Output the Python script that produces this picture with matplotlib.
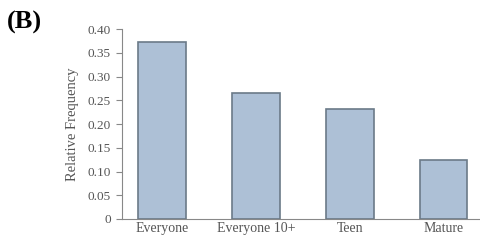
import matplotlib.pyplot as plt
import numpy as np

plt.rcParams['font.family'] = ['Liberation Serif', 'DejaVu Serif']

# ratings and their relative frequency
ratings = ["Everyone", "Everyone 10+", "Teen", "Mature"]
rel_freq = [0.372, 0.265, 0.232, 0.124]
yticks = [0, 0.05, 0.10, 0.15, 0.20, 0.25, 0.30, 0.35, 0.40]
ytick_labels = ["0", "0.05", "0.10", "0.15", "0.20", "0.25", "0.30", "0.35", "0.40"]

fig = plt.figure(figsize=(4.8, 2.44), dpi=100)
ax = fig.add_axes([0.254, 0.1025, 0.746, 0.7785])

x = np.arange(len(ratings))
ax.bar(x, rel_freq, width=0.51, color='#adc0d6', edgecolor='#6b7a88', linewidth=1.2)

ax.set_xlim(-0.43, 3.39)
ax.set_ylim(0, 0.40)
ax.set_yticks(yticks)
ax.set_yticklabels(ytick_labels)
ax.set_xticks(x)
ax.set_xticklabels(ratings)

txt = '#555555'
ax.tick_params(axis='y', direction='out', length=4, width=0.8, colors='#888888', labelcolor=txt, labelsize=9.5, pad=4)
ax.tick_params(axis='x', length=0, labelcolor=txt, labelsize=10, pad=2)
for s in ['top', 'right']:
    ax.spines[s].set_visible(False)
for s in ['left', 'bottom']:
    ax.spines[s].set_color('#888888')
    ax.spines[s].set_linewidth(0.8)

ax.set_ylabel("Relative Frequency", fontsize=10.5, color=txt, labelpad=6)

fig.text(0.014, 0.955, "(B)", fontsize=19, fontweight='bold', color='black', va='top')

fig.savefig("out.png", dpi=100)
